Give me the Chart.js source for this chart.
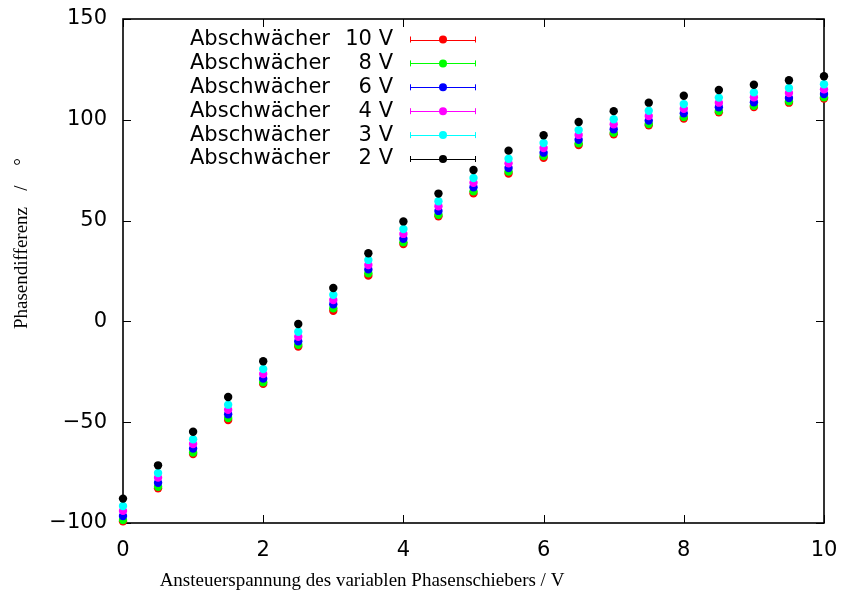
<!DOCTYPE html>
<html>
<head>
<meta charset="utf-8">
<script src="https://cdn.jsdelivr.net/npm/chart.js@4.4.0/dist/chart.umd.min.js"></script>
<style>
  html, body { margin: 0; padding: 0; background: #fff; }
  #wrap { width: 842px; height: 595px; }
</style>
</head>
<body>
<div id="wrap"><canvas id="myChart" width="842" height="595"></canvas></div>
<script>
// data
const xs = [0, 0.5, 1, 1.5, 2, 2.5, 3, 3.5, 4, 4.5, 5, 5.5, 6, 6.5, 7, 7.5, 8, 8.5, 9, 9.5, 10];

const v10 = [-99.2, -82.8, -65.8, -48.9, -31.0, -12.5, 5.3, 22.7, 38.4, 52.1, 63.5, 73.4, 81.2, 87.5, 92.8, 97.3, 100.6, 103.7, 106.3, 108.5, 110.6];
const v8 = [-98.5, -82.0, -65.0, -47.9, -30.2, -11.6, 6.5, 23.9, 39.2, 52.9, 64.5, 74.3, 82.0, 88.3, 93.5, 97.9, 101.4, 104.4, 107.0, 109.2, 111.2];
const v6 = [-96.5, -80.0, -63.1, -46.1, -28.4, -9.9, 8.5, 25.8, 41.0, 54.8, 66.5, 76.1, 83.7, 90.1, 95.3, 99.6, 103.2, 106.2, 108.7, 110.8, 112.8];
const v4 = [-94.0, -77.5, -60.8, -43.8, -26.1, -7.6, 10.6, 28.0, 43.4, 57.1, 68.8, 78.4, 86.0, 92.5, 97.8, 101.9, 105.5, 108.5, 111.2, 113.3, 115.1];
const v3 = [-91.6, -75.2, -58.5, -41.3, -23.6, -5.1, 13.2, 30.5, 45.8, 59.6, 71.1, 80.7, 88.5, 94.9, 100.3, 104.5, 107.8, 111.0, 113.6, 115.8, 117.6];
const v2 = [-87.9, -71.4, -54.7, -37.5, -19.8, -1.3, 16.6, 33.8, 49.6, 63.4, 75.1, 84.7, 92.3, 98.9, 104.3, 108.5, 111.9, 114.8, 117.4, 119.6, 121.6];

const labels = ["10 V", "8 V", "6 V", "4 V", "3 V", "2 V"];
const series = [v10, v8, v6, v4, v3, v2];
const colors = ["#ff0000", "#00ff00", "#0000ff", "#ff00ff", "#00ffff", "#000000"];

const xTicks = [0, 2, 4, 6, 8, 10];
const yTicks = [-100, -50, 0, 50, 100, 150];

const tickFont = { family: "DejaVu Sans", size: 21 };

// frame + inward ticks on all four sides (gnuplot style)
const framePlugin = {
  id: "frame",
  beforeDatasetsDraw(chart) {
    const { ctx, chartArea: a, scales } = chart;
    ctx.save();
    ctx.strokeStyle = "#000";
    ctx.lineWidth = 1;
    ctx.beginPath();
    xTicks.forEach((t) => {
      const px = Math.round(scales.x.getPixelForValue(t)) + 0.5;
      ctx.moveTo(px, a.bottom);
      ctx.lineTo(px, a.bottom - 8);
      ctx.moveTo(px, a.top);
      ctx.lineTo(px, a.top + 8);
    });
    yTicks.forEach((t) => {
      const py = Math.round(scales.y.getPixelForValue(t)) + 0.5;
      ctx.moveTo(a.left, py);
      ctx.lineTo(a.left + 8, py);
      ctx.moveTo(a.right, py);
      ctx.lineTo(a.right - 8, py);
    });
    ctx.stroke();
    ctx.lineWidth = 1.6;
    ctx.strokeRect(a.left, a.top, a.right - a.left, a.bottom - a.top);
    ctx.restore();
  },
  afterDraw(chart) {
    const { ctx } = chart;
    ctx.save();
    // axis titles
    ctx.fillStyle = "#000";
    ctx.font = "19px 'Liberation Serif'";
    ctx.textAlign = "center";
    ctx.textBaseline = "middle";
    ctx.fillText("Ansteuerspannung des variablen Phasenschiebers / V", 362, 581);
    ctx.translate(22, 0);
    ctx.rotate(-Math.PI / 2);
    ctx.fillText("Phasendifferenz", -268, 0);
    ctx.fillText("/", -188, 0);
    ctx.fillText("°", -162, 0);
    ctx.restore();

    // legend
    ctx.save();
    ctx.font = "21px 'DejaVu Sans'";
    ctx.textBaseline = "middle";
    labels.forEach((lab, i) => {
      const y = 39.5 + i * 23.9;
      ctx.fillStyle = "#000";
      ctx.textAlign = "left";
      ctx.fillText("Abschwächer", 190, y);
      ctx.textAlign = "right";
      ctx.fillText(lab, 393, y);
      ctx.strokeStyle = colors[i];
      ctx.lineWidth = 1;
      ctx.beginPath();
      ctx.moveTo(410, Math.round(y) + 0.5);
      ctx.lineTo(476, Math.round(y) + 0.5);
      ctx.moveTo(410.5, y - 3);
      ctx.lineTo(410.5, y + 3);
      ctx.moveTo(475.5, y - 3);
      ctx.lineTo(475.5, y + 3);
      ctx.stroke();
      ctx.fillStyle = colors[i];
      ctx.beginPath();
      ctx.arc(443, y, 4, 0, Math.PI * 2);
      ctx.fill();
    });
    ctx.restore();
  },
};

{
  const ctx = document.getElementById("myChart");

  new Chart(ctx, {
    type: "scatter",
    data: {
      datasets: series.map((vals, i) => ({
        label: "Abschwächer " + labels[i],
        data: xs.map((x, j) => ({ x: x, y: vals[j] })),
        backgroundColor: colors[i],
        borderColor: colors[i],
        pointRadius: 4.2,
        pointBorderWidth: 0,
        pointHoverRadius: 4.2,
        showLine: false,
        clip: false,
        order: series.length - i,
      })),
    },
    options: {
      responsive: false,
      animation: false,
      events: [],
      layout: { padding: { left: 0, top: 19, right: 18, bottom: 0 } },
      scales: {
        x: {
          type: "linear",
          min: 0,
          max: 10,
          afterFit: (scale) => {
            scale.height = 72;
            scale.paddingLeft = 0;
            scale.paddingRight = 0;
          },
          afterBuildTicks: (scale) => { scale.ticks = xTicks.map((v) => ({ value: v })); },
          grid: { display: false, drawTicks: false },
          border: { display: false },
          ticks: {
            color: "#000",
            font: tickFont,
            padding: 15,
            maxRotation: 0,
            autoSkip: false,
          },
        },
        y: {
          type: "linear",
          min: -100,
          max: 150,
          afterFit: (scale) => {
            scale.width = 123;
            scale.paddingTop = 0;
            scale.paddingBottom = 0;
          },
          afterBuildTicks: (scale) => { scale.ticks = yTicks.map((v) => ({ value: v })); },
          grid: { display: false, drawTicks: false },
          border: { display: false },
          ticks: {
            color: "#000",
            font: tickFont,
            padding: 16,
            callback: (v) => (v < 0 ? "\u2212" + Math.abs(v) : String(v)),
          },
        },
      },
      plugins: {
        legend: { display: false },
        tooltip: { enabled: false },
      },
    },
    plugins: [framePlugin],
  });
}
</script>
</body>
</html>
